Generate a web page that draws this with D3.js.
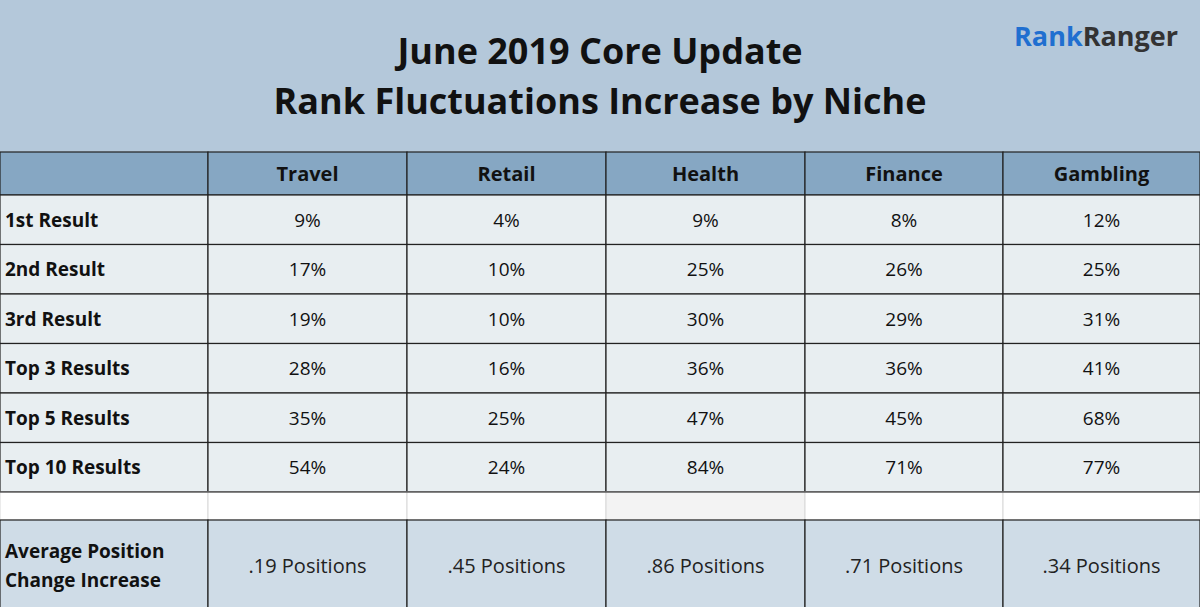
<!DOCTYPE html>
<html><head><meta charset="utf-8">
<script src="https://cdn.jsdelivr.net/npm/d3@7"></script>
<style>body{margin:0;background:#b4c8da;} text{font-family:"Open Sans",Lato,sans-serif;}</style>
</head><body><svg id="c" width="1200" height="607"></svg>
<script>
var niches = ['Travel','Retail','Health','Finance','Gambling'];
var rowLabels = ['1st Result','2nd Result','3rd Result','Top 3 Results','Top 5 Results','Top 10 Results'];
var travel   = ['9%','17%','19%','28%','35%','54%'];
var retail   = ['4%','10%','10%','16%','25%','24%'];
var health   = ['9%','25%','30%','36%','47%','84%'];
var finance  = ['8%','26%','29%','36%','45%','71%'];
var gambling = ['12%','25%','31%','41%','68%','77%'];
var avgChange = ['.19 Positions','.45 Positions','.86 Positions','.71 Positions','.34 Positions'];
var columns = [travel, retail, health, finance, gambling];

var svg = d3.select('#c');
svg.append('rect').attr('width',1200).attr('height',607).attr('fill','#b4c8da');

svg.append('text').attr('x',600).attr('y',64).attr('text-anchor','middle')
  .attr('font-size',36).attr('font-weight','bold').attr('fill','#111').text('June 2019 Core Update');
svg.append('text').attr('x',600).attr('y',114).attr('text-anchor','middle')
  .attr('font-size',36).attr('font-weight','bold').attr('fill','#111').text('Rank Fluctuations Increase by Niche');
var logo = svg.append('text').attr('x',1096).attr('y',46).attr('text-anchor','middle')
  .attr('font-size',27).attr('font-weight','bold');
logo.append('tspan').attr('fill','#1f6fd0').text('Rank');
logo.append('tspan').attr('fill','#333').text('Ranger');

var keys = ['label'].concat(niches);
var x = d3.scaleOrdinal().domain(keys).range([0,208,407,606,805,1003]);
var widths = [208,199,199,199,198,197];
var y = d3.scaleBand().domain(d3.range(rowLabels.length)).range([195,492]);

// header row
keys.forEach(function(k,i){
  svg.append('rect').attr('x',x(k)).attr('y',152).attr('width',widths[i]).attr('height',43)
    .attr('fill','#86a7c3').attr('stroke','#222').attr('stroke-width',1.2);
  if (i>0) svg.append('text').attr('x',x(k)+widths[i]/2).attr('y',181).attr('text-anchor','middle')
    .attr('font-size',20).attr('font-weight','bold').attr('fill','#111').text(k);
});

// body rows
rowLabels.forEach(function(r,ri){
  keys.forEach(function(k,i){
    svg.append('rect').attr('x',x(k)).attr('y',y(ri)).attr('width',widths[i]).attr('height',y.bandwidth())
      .attr('fill','#e8eef1').attr('stroke','#222').attr('stroke-width',1.2);
    var t = i===0 ? r : columns[i-1][ri];
    svg.append('text').attr('x', i===0 ? 5 : x(k)+widths[i]/2).attr('y',y(ri)+y.bandwidth()/2+7)
      .attr('text-anchor', i===0 ? 'start' : 'middle')
      .attr('font-size',19).attr('font-weight', i===0 ? 'bold' : 'normal')
      .attr('fill','#111').text(t);
  });
});

// blank row
keys.forEach(function(k,i){
  svg.append('rect').attr('x',x(k)).attr('y',492).attr('width',widths[i]).attr('height',28)
    .attr('fill', i===3 ? '#f3f3f3' : '#fff').attr('stroke','#d8d8d8').attr('stroke-width',1);
});
svg.append('line').attr('x1',0).attr('x2',1200).attr('y1',492).attr('y2',492).attr('stroke','#222').attr('stroke-width',1.2);

// footer row
keys.forEach(function(k,i){
  svg.append('rect').attr('x',x(k)).attr('y',520).attr('width',widths[i]).attr('height',90)
    .attr('fill','#cfdce7').attr('stroke','#222').attr('stroke-width',1.2);
  if (i>0) svg.append('text').attr('x',x(k)+widths[i]/2).attr('y',573).attr('text-anchor','middle')
    .attr('font-size',20).attr('fill','#222').text(avgChange[i-1]);
});
svg.append('text').attr('x',5).attr('y',558).attr('font-size',19).attr('font-weight','bold').attr('fill','#111').text('Average Position');
svg.append('text').attr('x',5).attr('y',587).attr('font-size',19).attr('font-weight','bold').attr('fill','#111').text('Change Increase');
</script></body></html>
